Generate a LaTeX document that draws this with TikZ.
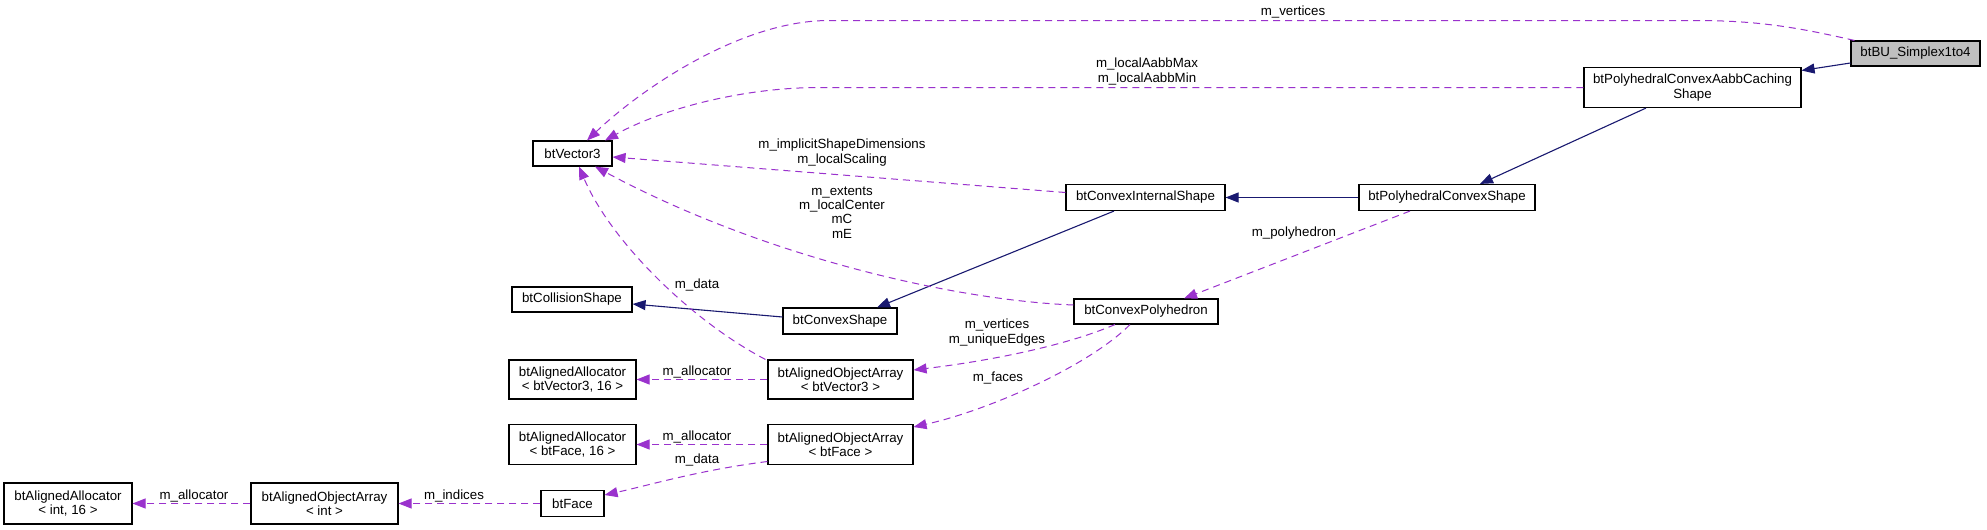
\documentclass[tikz,border=0pt]{standalone}
\usepackage{fontspec}
\setmainfont{Liberation Sans}
\usetikzlibrary{arrows.meta,calc}
\definecolor{inhcol}{HTML}{191970}
\definecolor{usecol}{HTML}{9A32CD}
\definecolor{nodegray}{HTML}{BFBFBF}
\newcommand\fsz{\fontsize{13.3pt}{14.2pt}\selectfont}
\begin{document}
\begin{tikzpicture}[x=1pt,y=-1pt,
  box/.style={draw=black, line width=1.1pt, fill=white, inner sep=0pt, align=center, font=\fsz},
  lbl/.style={inner sep=0pt, align=center, font=\fsz},
  useedge/.style={draw=usecol, line width=1pt, dash pattern=on 7pt off 5pt, -{Triangle[length=13pt,width=10pt]}},
  inhedge/.style={draw=inhcol, line width=1.1pt, -{Triangle[length=13pt,width=10pt]}}]
\fill[white] (0,0) rectangle (1987,530);
\useasboundingbox (0,0) rectangle (1987,530);

% nodes
\node[box, fill=nodegray, minimum width=129pt, minimum height=25pt] (bu) at (1915.5,53.5) {btBU\_Simplex1to4};
\node[box, minimum width=217pt, minimum height=40pt] (aabb) at (1692.5,87.5) {btPolyhedralConvexAabbCaching\\Shape};
\node[box, minimum width=79pt, minimum height=25pt] (vec) at (572.5,153.5) {btVector3};
\node[box, minimum width=159pt, minimum height=26pt] (cis) at (1145.5,197.5) {btConvexInternalShape};
\node[box, minimum width=176pt, minimum height=26pt] (pcs) at (1447,197.5) {btPolyhedralConvexShape};
\node[box, minimum width=120pt, minimum height=25pt] (col) at (572,299.5) {btCollisionShape};
\node[box, minimum width=114pt, minimum height=26pt] (cs) at (840,321) {btConvexShape};
\node[box, minimum width=144pt, minimum height=25pt] (cp) at (1146,311.5) {btConvexPolyhedron};
\node[box, minimum width=127pt, minimum height=39pt] (aav) at (572.5,379.5) {btAlignedAllocator\\< btVector3, 16 >};
\node[box, minimum width=145pt, minimum height=39pt] (oav) at (840.5,379.5) {btAlignedObjectArray\\< btVector3 >};
\node[box, minimum width=127pt, minimum height=40pt] (aaf) at (572.5,444.5) {btAlignedAllocator\\< btFace, 16 >};
\node[box, minimum width=145pt, minimum height=40pt] (oaf) at (840.5,444.5) {btAlignedObjectArray\\< btFace >};
\node[box, minimum width=63pt, minimum height=26pt] (face) at (572.5,503.5) {btFace};
\node[box, minimum width=128pt, minimum height=41pt] (aai) at (68,503.5) {btAlignedAllocator\\< int, 16 >};
\node[box, minimum width=147pt, minimum height=41pt] (oai) at (324.5,503.5) {btAlignedObjectArray\\< int >};

% inheritance
\draw[inhedge] ($(bu.west)+(0,9.5)$) -- ($(aabb.east)+(0,-17)$);
\draw[inhedge] ($(aabb.south)+(-46.5,0)$) -- ($(pcs.north)+(33,0)$);
\draw[inhedge] (pcs.west) -- (cis.east);
\draw[inhedge] ($(cis.south)+(-31.5,0)$) -- ($(cs.north)+(37,0)$);
\draw[inhedge] ($(cs.west)+(0,-4)$) -- ($(col.east)+(0,4.5)$);

% usage to btVector3
\draw[useedge] ($(bu.north west)+(4,0)$) .. controls (1800,28) and (1760,20.5) .. (1695,20.5) -- (829,20.5) .. controls (740,20.5) and (640,90) .. ($(vec.north)+(14.5,0)$);
\draw[useedge] (aabb.west) -- (820,87.5) .. controls (740,87.5) and (660,110) .. ($(vec.north)+(32.5,0)$);
\draw[useedge] ($(cis.west)+(0,-5)$) -- ($(vec.east)+(0,3.5)$);
\draw[useedge] ($(cp.west)+(0,-6.5)$) .. controls (950,300) and (760,255) .. ($(vec.south)+(22.5,0)$);
\draw[useedge] ($(oav.north west)+(-2,0)$) .. controls (690,320) and (610,240) .. ($(vec.south)+(6.5,0)$);

% other usage
\draw[useedge] ($(pcs.south)+(-37,0)$) -- ($(cp.north)+(38,0)$);
\draw[useedge] ($(cp.south)+(-31,0)$) .. controls (1060,348) and (980,362) .. ($(oav.east)+(0,-9.5)$);
\draw[useedge] ($(cp.south)+(-16,0)$) .. controls (1090,365) and (990,410) .. ($(oaf.east)+(0,-17.5)$);
\draw[useedge] (oav.west) -- (aav.east);
\draw[useedge] (oaf.west) -- (aaf.east);
\draw[useedge] ($(oaf.west)+(0,17)$) .. controls (700,470) and (650,485) .. ($(face.east)+(0,-8.5)$);
\draw[useedge] (face.west) -- (oai.east);
\draw[useedge] (oai.west) -- (aai.east);

% labels
\node[lbl] (l1) at (1293,12) {m\_vertices};
\node[lbl] (l2) at (1147,71.5) {m\_localAabbMax\\m\_localAabbMin};
\node[lbl] (l3) at (842,152.5) {m\_implicitShapeDimensions\\m\_localScaling};
\node[lbl] (l4) at (842,212.5) {m\_extents\\m\_localCenter\\mC\\mE};
\node[lbl] (l5) at (697,285) {m\_data};
\node[lbl] (l6) at (1294,233) {m\_polyhedron};
\node[lbl] (l7) at (997,332.5) {m\_vertices\\m\_uniqueEdges};
\node[lbl] (l8) at (998,378) {m\_faces};
\node[lbl] (l9) at (697,372) {m\_allocator};
\node[lbl] (l10) at (697,437) {m\_allocator};
\node[lbl] (l11) at (697,460) {m\_data};
\node[lbl] (l12) at (454,496) {m\_indices};
\node[lbl] (l13) at (194,496) {m\_allocator};
\end{tikzpicture}
\end{document}
